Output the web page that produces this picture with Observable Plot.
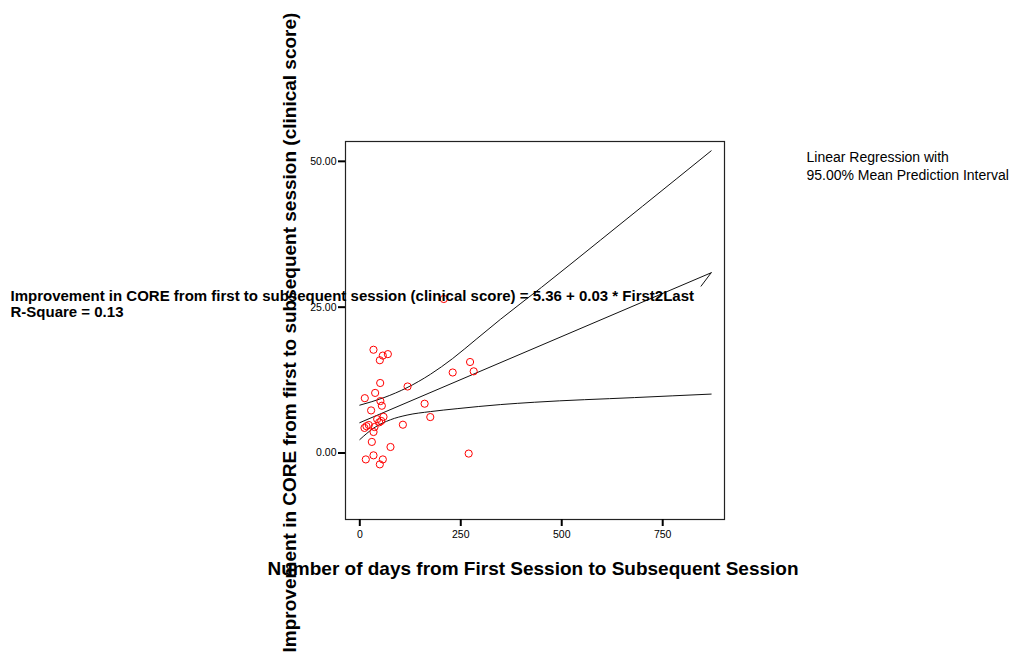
<!DOCTYPE html>
<html><head><meta charset="utf-8">
<script src="https://cdn.jsdelivr.net/npm/d3@7"></script>
<script src="https://cdn.jsdelivr.net/npm/@observablehq/plot@0.6"></script>
<style>body{margin:0;background:#fff}#chart svg{display:block}</style>
</head><body><div id="chart"></div>
<script>
// Observations: days from first to subsequent session, improvement in CORE
const days = [33.9, 57, 69.5, 49.6, 273, 282, 230, 50.5, 118.3, 38, 12.4, 51, 54.6, 28, 58.7, 43, 53, 48, 22.3, 16.5, 11.6, 36.4, 34, 29.8, 76, 269.6, 33.9, 14.9, 57, 49.6, 160.5, 174.5, 106.7, 208];
const improvement = [17.7, 16.7, 16.95, 15.9, 15.6, 14.0, 13.8, 12.0, 11.4, 10.3, 9.4, 8.9, 8.1, 7.3, 6.2, 5.8, 5.5, 5.25, 4.8, 4.6, 4.3, 4.45, 3.6, 1.9, 1.03, -0.1, -0.4, -1.1, -1.1, -1.95, 8.45, 6.16, 4.85, 26.4];

// Regression line and 95% mean prediction interval
const fitDays = [0, 870];
const fitValue = [5.2, 30.9];
const upperDays = [0, 60, 117, 175, 230, 290, 348, 450, 596, 700, 870];
const upperValue = [8.2, 9.5, 11.2, 13.5, 16.2, 19.6, 22.9, 28.4, 36.5, 42.3, 51.8];
const lowerDays = [0, 35, 76, 117, 175, 241, 348, 432, 680, 870];
const lowerValue = [2.3, 4.3, 5.7, 6.5, 7.1, 7.6, 8.3, 8.7, 9.5, 10.1];
const leaderDays = [870, 845];
const leaderValue = [30.9, 28.6];

const xTicks = [0, 250, 500, 750];
const yTicks = [0, 25, 50];

const xTitle = "Number of days from First Session to Subsequent Session";
const yTitle = "Improvement in CORE from first to subsequent session (clinical score)";
const equationText = "Improvement in CORE from first to subsequent session (clinical score) = 5.36 + 0.03 * First2Last\nR-Square = 0.13";
const legendText = "Linear Regression with\n95.00% Mean Prediction Interval";

const zip = (xs, ys) => xs.map((x, i) => ({x, y: ys[i]}));
const points = zip(days, improvement);
const fit = zip(fitDays, fitValue);
const upper = zip(upperDays, upperValue);
const lower = zip(lowerDays, lowerValue);
const leader = zip(leaderDays, leaderValue);

const chart = Plot.plot({
  width: 1009,
  height: 659,
  marginLeft: 345,
  marginRight: 285,
  marginTop: 141,
  marginBottom: 140,
  style: {fontFamily: "'Liberation Sans', Arial, sans-serif", background: "#fff", color: "#000"},
  x: {domain: [-35.4, 903], label: null},
  y: {domain: [-11.4, 53.4], label: null},
  marks: [
    Plot.frame({stroke: "#222", strokeWidth: 1.2}),
    Plot.axisX(xTicks, {tickSize: 7, strokeWidth: 2, tickPadding: 4, fontSize: 10.5, label: null}),
    Plot.axisY(yTicks, {tickSize: 7, strokeWidth: 2, tickPadding: 2, fontSize: 10.5, tickFormat: d3.format(".2f"), label: null}),
    Plot.line(upper, {x: "x", y: "y", curve: "monotone-x", stroke: "#111", strokeWidth: 1}),
    Plot.line(lower, {x: "x", y: "y", curve: "monotone-x", stroke: "#111", strokeWidth: 1}),
    Plot.line(fit, {x: "x", y: "y", stroke: "#111", strokeWidth: 1}),
    Plot.line(leader, {x: "x", y: "y", stroke: "#111", strokeWidth: 1}),
    Plot.dot(points, {x: "x", y: "y", r: 3.6, stroke: "#f00", strokeWidth: 1, fill: "none"}),
    Plot.text([equationText], {text: d => d, frameAnchor: "top-left", textAnchor: "start", lineAnchor: "top", dx: -335, dy: 147, fontSize: 15, fontWeight: "bold", lineHeight: 1.13, fill: "#000"}),
    Plot.text([legendText], {text: d => d, frameAnchor: "top-right", textAnchor: "start", lineAnchor: "top", dx: 82, dy: 8, fontSize: 14, lineHeight: 1.29, fill: "#000"}),
    Plot.text([xTitle], {text: d => d, frameAnchor: "bottom", textAnchor: "middle", dx: -2, dy: 55, fontSize: 19, fontWeight: "bold", fill: "#000"}),
    Plot.text([yTitle], {text: d => d, frameAnchor: "left", textAnchor: "middle", rotate: -90, dx: -56, dy: 2, fontSize: 19, fontWeight: "bold", fill: "#000"})
  ]
});
document.getElementById("chart").appendChild(chart);
</script>
</body></html>
